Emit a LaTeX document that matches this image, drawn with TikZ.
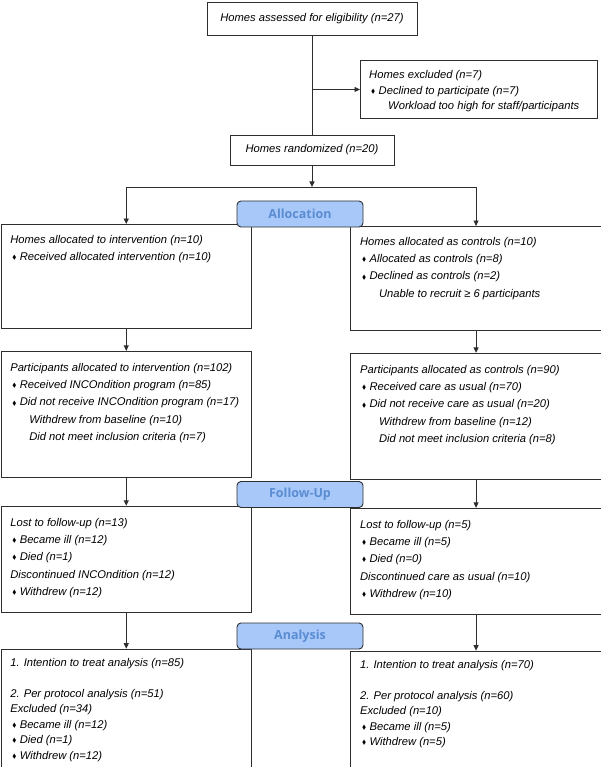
\documentclass[tikz,border=0pt]{standalone}
\usepackage{fontspec}
\setmainfont{Liberation Sans}
\newfontfamily\phasefont{Open Sans}
\usepackage{amssymb}
\usepackage{xcolor}
\usetikzlibrary{arrows.meta, positioning}
\definecolor{phasefill}{HTML}{A9C8FA}
\definecolor{phasetext}{HTML}{5A8CD2}
\definecolor{linegray}{HTML}{2E2E2E}
\tikzstyle{arrow} = [draw=linegray, line width=0.9pt, -{Triangle[length=5.5pt,width=5pt]}]
\tikzstyle{link} = [draw=linegray, line width=0.9pt]
\tikzstyle{block} = [rectangle, draw=linegray, line width=0.9pt, inner sep=0pt, minimum width=250.4pt, font=\itshape\fontsize{11.2}{13}\selectfont]
\tikzstyle{phase} = [rectangle, draw=linegray, line width=0.9pt, fill=phasefill, rounded corners=4pt, minimum width=126pt, minimum height=26pt, font=\phasefont\bfseries\fontsize{12.5}{14}\selectfont, text=phasetext]
\tikzstyle{txt} = [anchor=north west, align=left, inner sep=0pt, font=\itshape\fontsize{11.2}{17.3}\selectfont]
\tikzstyle{tighttxt} = [txt, font=\itshape\fontsize{11.2}{15.5}\selectfont]
\newcommand{\dmd}{\makebox[9.5pt][l]{\hspace{2pt}\raisebox{0.8pt}{\scalebox{0.55}{$\blacklozenge$}}}}
\newcommand{\subind}{\hspace*{19pt}}

\begin{document}
\begin{tikzpicture}[x=1pt, y=1pt]
    \useasboundingbox (0,0) rectangle (600,-767);
    % Nodes
    \node (assess) [block, minimum width=210pt, minimum height=33pt] at (312,-19) {Homes assessed for eligibility (n=27)};
    \node (excl) [block, anchor=north west, minimum width=237pt, minimum height=58pt] at (360,-60) {};
    \node (excltxt) [tighttxt] at ([shift={(9,-10.5)}]excl.north west) {Homes excluded (n=7)\\ \dmd Declined to participate (n=7)\\ \subind Workload too high for staff/participants};
    \node (rand) [block, minimum width=164pt, minimum height=30pt] at (312,-150) {Homes randomized (n=20)};

    \node (homesI) [block, anchor=north west, minimum height=104pt] at (0.6,-224) {};
    \node (partI) [block, minimum height=126pt, below=22pt of homesI] {};
    \node (lostI) [block, minimum height=106pt, below=28pt of partI] {};
    \node (anaI) [block, minimum height=120pt, below=36pt of lostI] {};

    \node (homesC) [block, minimum height=104pt, right=98.5pt of homesI, yshift=-2pt] {};
    \node (partC) [block, minimum height=126pt, below=22pt of homesC] {};
    \node (lostC) [block, minimum height=106pt, below=28pt of partC] {};
    \node (anaC) [block, minimum height=118pt, below=36pt of lostC] {};

    \node (homesItxt) [txt] at ([shift={(9.5,-11)}]homesI.north west) {Homes allocated to intervention (n=10)\\ \dmd Received allocated intervention (n=10)};
    \node (homesCtxt) [txt] at ([shift={(9.5,-11)}]homesC.north west) {Homes allocated as controls (n=10)\\ \dmd Allocated as controls (n=8)\\ \dmd Declined as controls (n=2)\\ \subind Unable to recruit ≥ 6 participants};
    \node (partItxt) [txt] at ([shift={(9.5,-12)}]partI.north west) {Participants allocated to intervention (n=102)\\ \dmd Received INCOndition program (n=85)\\ \dmd Did not receive INCOndition program (n=17)\\ \subind Withdrew from baseline (n=10)\\ \subind Did not meet inclusion criteria (n=7)};
    \node (partCtxt) [txt] at ([shift={(9.5,-12)}]partC.north west) {Participants allocated as controls (n=90)\\ \dmd Received care as usual (n=70)\\ \dmd Did not receive care as usual (n=20)\\ \subind Withdrew from baseline (n=12)\\ \subind Did not meet inclusion criteria (n=8)};
    \node (lostItxt) [txt] at ([shift={(9.5,-12)}]lostI.north west) {Lost to follow-up (n=13)\\ \dmd Became ill (n=12)\\ \dmd Died (n=1)\\ Discontinued INCOndition (n=12)\\ \dmd Withdrew (n=12)};
    \node (lostCtxt) [txt] at ([shift={(9.5,-12)}]lostC.north west) {Lost to follow-up (n=5)\\ \dmd Became ill (n=5)\\ \dmd Died (n=0)\\ Discontinued care as usual (n=10)\\ \dmd Withdrew (n=10)};
    \node (anaItxt) [tighttxt] at ([shift={(9.5,-9)}]anaI.north west) {1. Intention to treat analysis (n=85)\\ \mbox{}\\ 2. Per protocol analysis (n=51)\\ Excluded (n=34)\\ \dmd Became ill (n=12)\\ \dmd Died (n=1)\\ \dmd Withdrew (n=12)};
    \node (anaCtxt) [tighttxt] at ([shift={(9.5,-9)}]anaC.north west) {1. Intention to treat analysis (n=70)\\ \mbox{}\\ 2. Per protocol analysis (n=60)\\ Excluded (n=10)\\ \dmd Became ill (n=5)\\ \dmd Withdrew (n=5)};

    \coordinate (exbr) at (assess.south |- excl.west);
    \coordinate (split) at (312,-187);
    \coordinate (splitL) at (homesI.north |- split);
    \coordinate (splitR) at (homesC.north |- split);

    % Arrows
    \draw [link] (assess) -- (rand);
    \draw [arrow] (exbr) -- (excl);
    \draw [arrow] (rand) -- (split);
    \draw [link] (splitL) -- (splitR);
    \draw [arrow] (splitL) -- (homesI);
    \draw [arrow] (splitR) -- (homesC);
    \draw [arrow] (homesI) -- (partI);
    \draw [arrow] (homesC) -- (partC);
    \draw [arrow] (partI) -- (lostI);
    \draw [arrow] (partC) -- (lostC);
    \draw [arrow] (lostI) -- (anaI);
    \draw [arrow] (lostC) -- (anaC);

    % Phase labels
    \node (alloc) [phase] at (300,-214) {Allocation};
    \node (follow) [phase] at (300,-494.5) {Follow-Up};
    \node (analysis) [phase] at (300,-636) {Analysis};
\end{tikzpicture}
\end{document}
